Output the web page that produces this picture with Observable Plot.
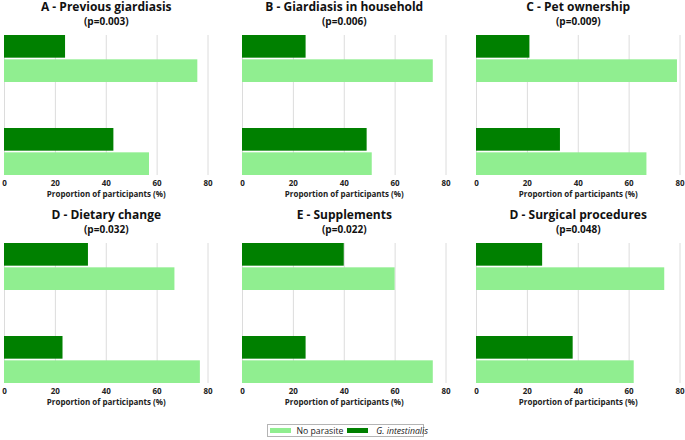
<!DOCTYPE html>
<html>
<head>
<meta charset="utf-8">
<script src="https://cdn.jsdelivr.net/npm/d3@7"></script>
<script src="https://cdn.jsdelivr.net/npm/@observablehq/plot@0.6"></script>
<style>
  html, body { margin: 0; padding: 0; background: #fff; }
  #page { position: relative; width: 685px; height: 440px; overflow: hidden; font-family: "Open Sans", sans-serif; }
  .panel { position: absolute; }
  .panel svg { overflow: visible; max-width: none !important; display: block; }
  #legend {
    position: absolute; left: 266.5px; top: 424px; width: 157px; height: 13px;
    box-sizing: border-box; border: 1px solid #b4b4b4; background: #fff;
    display: flex; align-items: center; padding-left: 2px;
    font-family: "Open Sans", sans-serif; font-size: 8.7px; color: #222; white-space: nowrap;
  }
  #legend .sw { display: inline-block; width: 21px; height: 5px; flex: none; }
  #legend .lab { margin-left: 6px; margin-right: 4px; }
</style>
</head>
<body>
<div id="page"></div>
<script>
// Panel titles and chi-square p-values
const titles = [
  "A - Previous giardiasis",
  "B - Giardiasis in household",
  "C - Pet ownership",
  "D - Dietary change",
  "E - Supplements",
  "D - Surgical procedures"
];
const pValues = ["0.003", "0.006", "0.009", "0.032", "0.022", "0.048"];

// Two exposure groups per panel (top, bottom)
const groups = ["No", "Yes"];

// Proportion of participants (%) in each group
const giardiaPct = [[24, 43], [25, 49], [21, 33], [33, 23], [40, 25], [26, 38]];
const noParasitePct = [[76, 57], [75, 51], [79, 67], [67, 77], [60, 75], [74, 62]];

const seriesNames = ["No parasite", "G. intestinalis"];
const xTicks = [0, 20, 40, 60, 80];
const xLabel = "Proportion of participants (%)";

const colors = { "No parasite": "#90ee90", "G. intestinalis": "#008000" };

const frameW = 203.5;
const mLeft = 6, mRight = 12;
const panelW = mLeft + frameW + mRight;
const lefts = [-2.5, 236, 469.7];
const tops = [0, 208.3];

function panel(i) {
  const rows = groups.map((g, j) => ({ group: g, giardia: giardiaPct[i][j], none: noParasitePct[i][j] }));
  return Plot.plot({
    width: panelW,
    height: 200,
    marginTop: 35,
    marginBottom: 25,
    marginLeft: mLeft,
    marginRight: mRight,
    style: { fontFamily: "Open Sans, sans-serif", background: "transparent", color: "#222" },
    x: { domain: [0, 80] },
    y: { domain: groups, paddingInner: 0.5, paddingOuter: 0, axis: null },
    marks: [
      Plot.gridX(xTicks, { stroke: "#dcdcdc", strokeOpacity: 1, strokeWidth: 1 }),
      Plot.barX(rows, { x: "giardia", y: "group", fill: colors["G. intestinalis"], insetBottom: 24.33 }),
      Plot.barX(rows, { x: "none", y: "group", fill: colors["No parasite"], insetTop: 24.33 }),
      Plot.axisX({ ticks: xTicks, tickSize: 0, tickPadding: 5, fontSize: 8, fontWeight: "bold", label: null, fill: "#222" }),
      Plot.text([xLabel], { frameAnchor: "bottom", dy: 21.3, lineAnchor: "bottom", fontSize: 8, fontWeight: "bold", fill: "#222" }),
      Plot.text([titles[i]], { frameAnchor: "top", dy: -24.6, lineAnchor: "bottom", fontSize: 12, fontWeight: "bold", fill: "#111" }),
      Plot.text([`(p=${pValues[i]})`], { frameAnchor: "top", dy: -10.2, lineAnchor: "bottom", fontSize: 10, fontWeight: "bold", fill: "#111" })
    ]
  });
}

const page = document.getElementById("page");
titles.forEach((t, i) => {
  const div = document.createElement("div");
  div.className = "panel";
  div.style.left = lefts[i % 3] + "px";
  div.style.top = tops[Math.floor(i / 3)] + "px";
  div.style.width = panelW + "px";
  div.appendChild(panel(i));
  page.appendChild(div);
});

// Legend
const legend = document.createElement("div");
legend.id = "legend";
seriesNames.forEach((name, k) => {
  const sw = document.createElement("span");
  sw.className = "sw";
  sw.style.background = colors[name];
  const lab = document.createElement("span");
  lab.className = "lab";
  lab.textContent = name;
  if (k === 1) { lab.style.fontStyle = "italic"; lab.style.marginLeft = "8px"; }
  legend.appendChild(sw);
  legend.appendChild(lab);
});
page.appendChild(legend);
</script>
</body>
</html>
